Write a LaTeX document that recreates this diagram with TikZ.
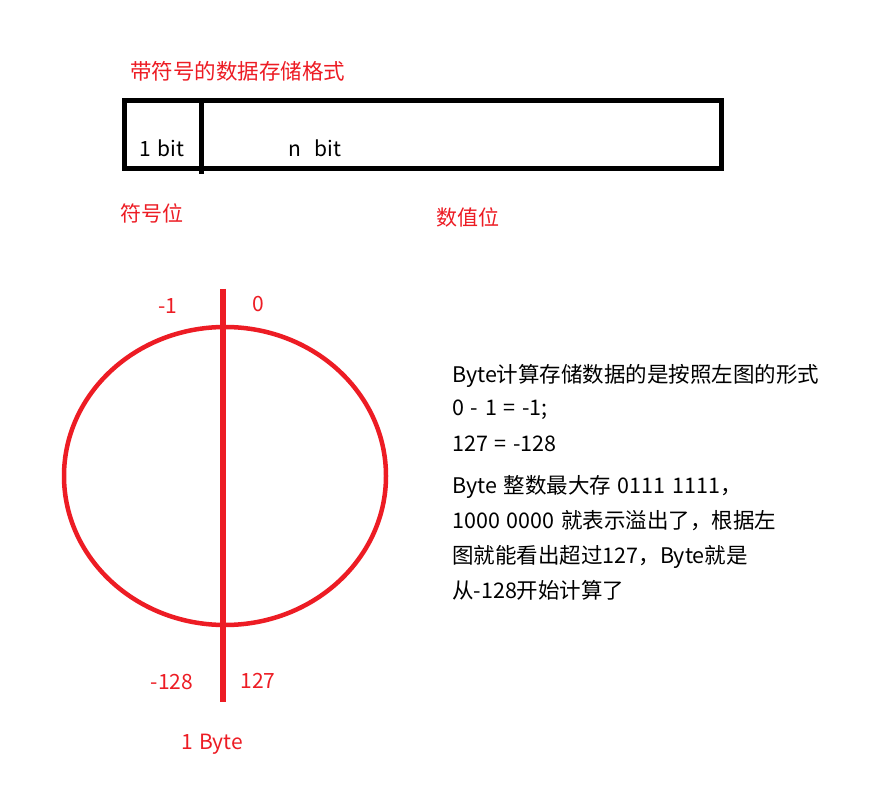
\documentclass[tikz,border=0pt]{standalone}
\usepackage{fontspec}
\setmainfont{Noto Sans CJK SC}[WordSpace={1.4,1,1}]
\definecolor{pred}{RGB}{237,28,36}
\begin{document}
\begin{tikzpicture}[x=1pt,y=-1pt,
  redtxt/.style={text=pred,font=\fontsize{21}{25}\selectfont,inner sep=0pt},
  titletxt/.style={text=pred,font=\fontsize{21.5}{25}\selectfont,inner sep=0pt},
  blktxt/.style={text=black,font=\fontsize{21}{25}\selectfont,inner sep=0pt},
  bodytxt/.style={text=black,font=\fontsize{21.5}{25}\selectfont,inner sep=0pt,anchor=base west},
  boxline/.style={draw=black,line width=5pt},
  redline/.style={draw=pred,line width=5pt}]
\useasboundingbox[fill=white] (0,0) rectangle (884,794);
% top format box
\node[titletxt,anchor=west] (title) at (130,71) {带符号的数据存储格式};
\coordinate (boxtl) at (124,101);
\coordinate (boxbr) at (721,169);
\draw[boxline] (boxtl) rectangle (boxbr);
\coordinate (divtop) at (201,101);
\coordinate (divbot) at (201,174);
\draw[boxline] (divtop) -- (divbot);
\node[blktxt] (onebit) at (162,148) {1 bit};
\node[blktxt] (nbit) at (315,148) {n\ \ bit};
\node[redtxt] (signpos) at (152,213) {符号位};
\node[redtxt] (valpos) at (468,217) {数值位};
% circle diagram
\coordinate (ctr) at (225,476);
\draw[redline,line width=4.5pt] (ctr) ellipse [x radius=161, y radius=149];
\coordinate (vtop) at (223,289);
\coordinate (vbot) at (223,702);
\draw[redline,line width=6pt] (vtop) -- (vbot);
\node[redtxt] (m1) at (168,306) {-1};
\node[redtxt] (z0) at (258,304) {0};
\node[redtxt] (m128) at (172,682) {-128};
\node[redtxt] (p127) at (258,681) {127};
\node[redtxt] (byte) at (212,744) {1 Byte};
% explanation
\node[bodytxt] (l1) at (452,383) {Byte计算存储数据的是按照左图的形式};
\node[bodytxt] (l2) at (452,416) {0 - 1 = -1;};
\node[bodytxt] (l3) at (452,451) {127 = -128};
\node[bodytxt] (l4) at (452,493) {Byte 整数最大存 0111 1111，};
\node[bodytxt] (l5) at (452,528) {1000 0000 就表示溢出了，根据左};
\node[bodytxt] (l6) at (452,563) {图就能看出超过127，Byte就是};
\node[bodytxt] (l7) at (452,598) {从-128开始计算了};
\end{tikzpicture}
\end{document}
